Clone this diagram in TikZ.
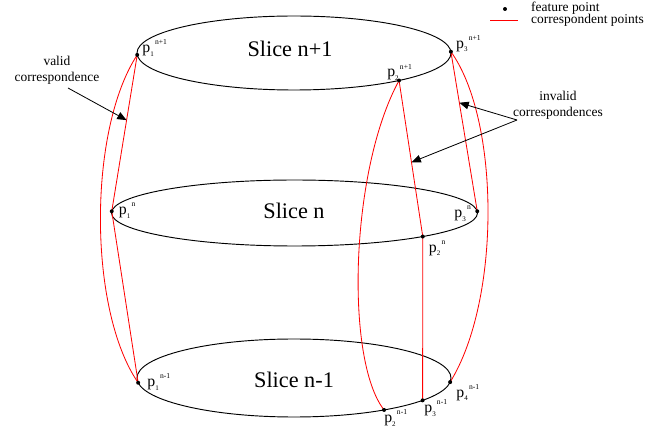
\documentclass[tikz,border=0pt]{standalone}
\usepackage{fontspec}
\setmainfont{Liberation Serif}
\usetikzlibrary{arrows.meta,calc}

\newcommand{\plab}[2]{p\rlap{\raisebox{-0.45ex}{\fontsize{6}{6}\selectfont #1}}\hspace{0.3em}\raisebox{1.1ex}{\fontsize{6.5}{6.5}\selectfont #2}}

\tikzset{
    slice/.style={draw=black, line width=0.8pt},
    corr/.style={draw=red, line width=0.7pt},
    fdot/.style={circle, fill=black, inner sep=0pt, minimum size=3.4pt},
    plabel/.style={inner sep=0pt, anchor=base west, font=\fontsize{13.5}{13.5}\selectfont},
    slicetext/.style={font=\fontsize{19}{19}\selectfont},
    note/.style={align=center, inner sep=0pt, font=\fontsize{11.5}{13.5}\selectfont},
    legtext/.style={anchor=west, inner sep=0pt, font=\fontsize{11.5}{12}\selectfont},
    pointer/.style={-{Triangle[length=8pt,width=6.5pt]}, line width=0.7pt}
}

\begin{document}
\begin{tikzpicture}[x=0.03cm, y=-0.03cm]

\useasboundingbox (0,0) rectangle (669,431);

% ---------------- SLICES ----------------

\coordinate (ctop) at (294,53);
\coordinate (cmid) at (294.5,213);
\coordinate (cbot) at (294,378);

\draw[slice] (ctop) ellipse [x radius=157, y radius=37];
\draw[slice] (cmid) ellipse [x radius=183, y radius=33];
\draw[slice] (cbot) ellipse [x radius=157, y radius=39];

\node[slicetext] (stop) at (290,49) {Slice n+1};
\node[slicetext] (smid) at (294,211) {Slice n};
\node[slicetext] (sbot) at (294,380) {Slice n-1};


% ---------------- FEATURE POINTS ----------------

\coordinate (p1t) at ($(ctop)+(177:157 and 37)$);
\coordinate (p2t) at ($(ctop)+(48:157 and 37)$);
\coordinate (p3t) at ($(ctop)+(-2:157 and 37)$);

\coordinate (p1m) at ($(cmid)+(183:183 and 33)$);
\coordinate (p2m) at ($(cmid)+(45.5:183 and 33)$);
\coordinate (p3m) at ($(cmid)+(357:183 and 33)$);

\coordinate (p1b) at ($(cbot)+(173:157 and 39)$);
\coordinate (p2b) at ($(cbot)+(55:157 and 39)$);
\coordinate (p3b) at ($(cbot)+(35:157 and 39)$);
\coordinate (p4b) at ($(cbot)+(6:157 and 39)$);


% ---------------- CORRESPONDENCES ----------------

\draw[corr] (p1t) -- (p1m) -- (p1b);
\draw[corr] (p1t) .. controls (88,130) and (88,310) .. (p1b);

\draw[corr] (p2t) -- (p2m) -- (p3b);
\draw[corr] (p2t) .. controls (350,170) and (345,360) .. (p2b);

\draw[corr] (p3t) -- (p3m);
\draw[corr] (p3t) .. controls (500,120) and (501,300) .. (p4b);

\foreach \p in {p1t,p2t,p3t,p1m,p2m,p3m,p1b,p2b,p3b,p4b}
    \node[fdot] (d\p) at (\p) {};

\node[plabel] (l1t) at ($(p1t)+(5,-2)$) {\plab{1}{n+1}};
\node[plabel] (l2t) at ($(p2t)+(-12,-3.5)$) {\plab{2}{n+1}};
\node[plabel] (l3t) at ($(p3t)+(5,-3.7)$) {\plab{3}{n+1}};

\node[plabel] (l1m) at ($(p1m)+(7,3.7)$) {\plab{1}{n}};
\node[plabel] (l2m) at ($(p2m)+(6,15.5)$) {\plab{2}{n}};
\node[plabel] (l3m) at ($(p3m)+(-23,6.7)$) {\plab{3}{n}};

\node[plabel] (l1b) at ($(p1b)+(9,4)$) {\plab{1}{n-1}};
\node[plabel] (l2b) at ($(p2b)+(0,13)$) {\plab{2}{n-1}};
\node[plabel] (l3b) at ($(p3b)+(1.5,12.6)$) {\plab{3}{n-1}};
\node[plabel] (l4b) at ($(p4b)+(6,15)$) {\plab{4}{n-1}};


% ---------------- ANNOTATIONS ----------------

\node[note] (valid) at (57,70) {valid\\correspondence};
\coordinate (vtail) at (68,88);
\coordinate (vtip) at ($(p1t)!0.417!(p1m)$);
\draw[pointer] (vtail) -- (vtip);

\node[note] (invalid) at (558,105) {invalid\\correspondences};
\coordinate (itail) at (517,120);
\coordinate (itipa) at ($(p3t)!0.32!(p3m)$);
\coordinate (itipb) at ($(p2t)!0.524!(p2m)$);
\draw[pointer] (itail) -- (itipa);
\draw[pointer] (itail) -- (itipb);


% ---------------- LEGEND ----------------

\node[fdot] (legdot) at (505,9) {};
\coordinate (lega) at (490,20.5);
\coordinate (legb) at (518,20.5);
\draw[corr, line width=0.9pt] (lega) -- (legb);

\node[legtext] (legf) at (531,8) {feature point};
\node[legtext] (legc) at (531,20) {correspondent points};

\end{tikzpicture}
\end{document}
